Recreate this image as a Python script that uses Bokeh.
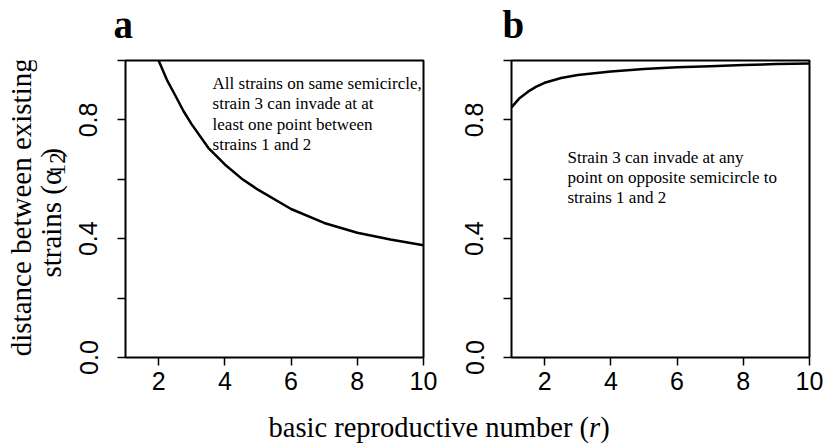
import numpy as np
from bokeh.plotting import figure
from bokeh.layouts import row, column
from bokeh.models import Range1d, FixedTicker, PrintfTickFormatter
from bokeh.embed import file_html
from bokeh.resources import INLINE
from bokeh.core.properties import value

# ---------------- data ----------------
r_a = [2.0, 2.25, 2.5, 2.75, 3.0, 3.5, 4.0, 4.5, 5.0, 6.0, 7.0, 8.0, 9.0, 10.0]
alpha_a = [1.0, 0.935, 0.883, 0.83, 0.785, 0.706, 0.65, 0.603, 0.565, 0.50, 0.453, 0.42, 0.397, 0.378]

r_b = [1.0, 1.25, 1.5, 1.75, 2.0, 2.5, 3.0, 4.0, 5.0, 6.0, 7.0, 8.0, 9.0, 10.0]
alpha_b = [0.842, 0.874, 0.895, 0.912, 0.925, 0.941, 0.951, 0.963, 0.971, 0.977, 0.981, 0.985, 0.988, 0.99]

x_ticks = [2, 4, 6, 8, 10]
y_major = [0.0, 0.4, 0.8]
y_minor = [0.2, 0.6, 1.0]

panel_letters = ["a", "b"]
text_a = ["All strains on same semicircle,", "strain 3 can invade at at",
          "least one point between", "strains 1 and 2"]
text_b = ["Strain 3 can invade at any", "point on opposite semicircle to",
          "strains 1 and 2"]

ylab1 = "distance between existing"
ylab2a = "strains (\u03b1"
ylab2b = "12"
ylab2c = ")"
xlab1 = "basic reproductive number ("
xlab2 = "r"
xlab3 = ")"

SERIF = "Liberation Serif"
SANS = "Liberation Sans"
TOP_H = 58
ROW_H = 344
FRAME_H = 297
BOT_H = 448 - TOP_H - ROW_H
LINE_DY = 20.3 / FRAME_H


def strip(width, height, xr, yr):
    s = figure(width=width, height=height, x_range=Range1d(*xr), y_range=Range1d(*yr),
               min_border=0, x_axis_type=None, y_axis_type=None,
               output_backend="svg", toolbar_location=None)
    s.grid.visible = False
    s.outline_line_color = None
    return s


def panel(width, left, right):
    p = figure(width=width, height=ROW_H, x_range=Range1d(1, 10), y_range=Range1d(0, 1),
               output_backend="svg", toolbar_location=None,
               min_border_left=left, min_border_right=right,
               min_border_top=2, min_border_bottom=ROW_H - 2 - FRAME_H)
    p.xgrid.visible = False
    p.ygrid.visible = False
    p.outline_line_color = "black"
    p.outline_line_width = 2
    p.outline_line_alpha = 1
    p.background_fill_color = "white"
    p.border_fill_color = "white"

    p.xaxis.ticker = FixedTicker(ticks=x_ticks)
    p.yaxis.ticker = FixedTicker(ticks=y_major, minor_ticks=y_minor)
    p.yaxis.formatter = PrintfTickFormatter(format="%.1f")
    p.yaxis.major_label_orientation = "vertical"
    for ax in (p.xaxis[0], p.yaxis[0]):
        ax.axis_line_color = None
        ax.major_tick_out = 8
        ax.major_tick_in = 0
        ax.major_tick_line_color = "black"
        ax.major_tick_line_width = 1.5
        ax.minor_tick_out = 8
        ax.minor_tick_in = 0
        ax.minor_tick_line_color = "black"
        ax.minor_tick_line_width = 1.5
        ax.major_label_text_font = SANS
        ax.major_label_text_font_size = "25px"
        ax.major_label_text_color = "black"
    p.xaxis.minor_tick_line_color = None
    p.xaxis.major_label_standoff = 6
    p.yaxis.major_label_standoff = 20
    return p


def add_lines(p, lines, x, y_first):
    ys = [y_first - i * LINE_DY for i in range(len(lines))]
    p.text(x=[x] * len(lines), y=ys, text=lines, text_font=value(SERIF),
           text_font_size="17px", text_color="black", text_align="left",
           text_baseline="alphabetic")


# top strip with panel letters (x = page px, y = TOP_H - page px)
top = strip(827, TOP_H, (0, 827), (0, TOP_H))
top.text(x=[113, 502], y=[TOP_H - 24] * 2, text=panel_letters, text_font=value(SERIF),
         text_font_style="bold", text_font_size="39px", text_color="black",
         text_align="left", text_baseline="alphabetic")

pa = panel(385, 55, 32)
pa.line(r_a, alpha_a, line_color="black", line_width=2.5)
add_lines(pa, text_a, 3.63, (357 - 83) / FRAME_H)

pb = panel(372, 56, 18)
pb.line(r_b, alpha_b, line_color="black", line_width=2.5)
add_lines(pb, text_b, 2.69, (357 - 156.5) / FRAME_H)

# y-axis label strip (x = page px, y = 402 - page px)
YB = TOP_H + ROW_H
q = strip(70, ROW_H, (0, 70), (0, ROW_H))


def vtext(x_base, y_center, txt, size):
    # rotated text, centred; empirical offsets for this renderer
    q.text(x=[x_base - 0.48 * size], y=[YB - (y_center + 0.655 * size)], text=[txt],
           angle=np.pi / 2, text_align="center", text_baseline="alphabetic",
           text_font=value(SERIF), text_font_size=f"{size:.1f}px", text_color="black")


fs = 29
sub = fs * 0.8
vtext(34, 209, ylab1, fs)
start = 282
w1 = 3.722 * fs
w2 = 1.0 * sub
w3 = 0.333 * fs
vtext(64, start - w1 / 2, ylab2a, fs)
vtext(68, start - w1 - w2 / 2, ylab2b, sub)
vtext(64, start - w1 - w2 - w3 / 2, ylab2c, fs)

# x-axis label strip (x = page px, y = 448 - page px)
xl = strip(827, BOT_H, (0, 827), (0, BOT_H))
xfs = 28.5
x0 = 268
yb = 448 - 427
xl.text(x=[x0], y=[yb], text=[xlab1], text_align="left", text_baseline="alphabetic",
        text_font=value(SERIF), text_font_size=f"{xfs}px", text_color="black")
xl.text(x=[x0 + 11.247 * xfs], y=[yb], text=[xlab2], text_align="left",
        text_baseline="alphabetic", text_font=value(SERIF), text_font_style="italic",
        text_font_size=f"{xfs}px", text_color="black")
xl.text(x=[x0 + 11.636 * xfs], y=[yb], text=[xlab3], text_align="left",
        text_baseline="alphabetic", text_font=value(SERIF), text_font_size=f"{xfs}px",
        text_color="black")

layout = column(top, row(q, pa, pb), xl)
open("out.html", "w").write(file_html(layout, INLINE))
